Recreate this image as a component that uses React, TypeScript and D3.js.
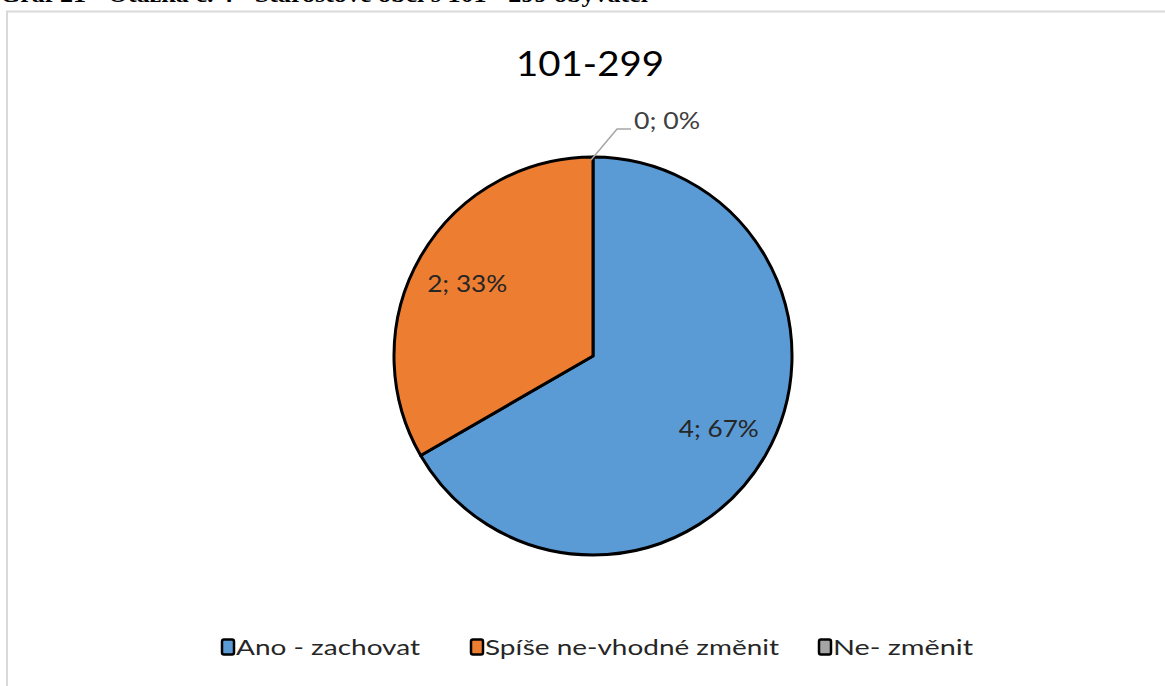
import React, { useEffect, useRef } from "react";
import * as d3 from "d3";

const categories = ["Ano - zachovat", "Spíše ne-vhodné změnit", "Ne- změnit"];
const counts = [4, 2, 0];
const percents = ["67%", "33%", "0%"];
const colors = ["#5B9BD5", "#ED7D31", "#A5A5A5"];

const title = "101-299";
const caption = "Graf 21 - Otázka č. 4 - Starostové obcí s 101 - 299 obyvatel";

const W = 1165;
const H = 686;

const App = () => {
  const svgRef = useRef<SVGSVGElement | null>(null);

  useEffect(() => {
    const svg = d3.select(svgRef.current);
    svg.selectAll("*").remove();
    svg.attr("width", W).attr("height", H);

    const font = "Lato, 'Open Sans', sans-serif";

    // caption above the chart frame (cut off in the original)
    svg
      .append("text")
      .attr("x", 0)
      .attr("y", 2)
      .attr("font-family", "'Liberation Serif', 'Times New Roman', serif")
      .attr("font-weight", "bold")
      .attr("font-size", 24)
      .attr("textLength", 648)
      .attr("lengthAdjust", "spacingAndGlyphs")
      .attr("fill", "#000")
      .text(caption);

    // chart frame
    svg
      .append("rect")
      .attr("x", 7)
      .attr("y", 11.5)
      .attr("width", W + 20)
      .attr("height", H + 20)
      .attr("fill", "#fff")
      .attr("stroke", "#d9d9d9")
      .attr("stroke-width", 2);

    svg
      .append("text")
      .attr("x", 590)
      .attr("y", 76)
      .attr("text-anchor", "middle")
      .attr("font-family", font)
      .attr("font-size", 35)
      .attr("textLength", 148)
      .attr("lengthAdjust", "spacingAndGlyphs")
      .attr("fill", "#000")
      .text(title);

    const cx = 593;
    const cy = 356;
    const r = 199;

    const data = categories.map((c, i) => ({ c, v: counts[i], p: percents[i], col: colors[i] }));
    const pie = d3.pie<any>().sort(null).value((d) => d.v);
    const arcs = pie(data);
    const arc = d3.arc<any>().innerRadius(0).outerRadius(r);

    const g = svg.append("g").attr("transform", `translate(${cx},${cy})`);

    g.selectAll("path")
      .data(arcs.filter((a) => a.data.v > 0))
      .enter()
      .append("path")
      .attr("d", arc)
      .attr("fill", (d) => d.data.col)
      .attr("stroke", "#000")
      .attr("stroke-width", 3)
      .attr("stroke-linejoin", "round");

    // labels inside slices
    const labelArc = d3.arc<any>().innerRadius(r * 0.73).outerRadius(r * 0.73);
    g.selectAll("text.lbl")
      .data(arcs.filter((a) => a.data.v > 0))
      .enter()
      .append("text")
      .attr("class", "lbl")
      .attr("transform", (d) => {
        const [x, y] = labelArc.centroid(d);
        return `translate(${x},${y})`;
      })
      .attr("text-anchor", "middle")
      .attr("dy", "0.35em")
      .attr("font-family", font)
      .attr("font-size", 24)
      .attr("textLength", 80)
      .attr("lengthAdjust", "spacingAndGlyphs")
      .attr("fill", "#262626")
      .text((d) => `${d.data.v}; ${d.data.p}`);

    // zero slice label with leader line
    arcs
      .filter((a) => a.data.v === 0)
      .forEach((a) => {
        const ang = a.startAngle;
        const x0 = Math.sin(ang) * r;
        const y0 = -Math.cos(ang) * r;
        g.append("path")
          .attr("d", `M${x0 - 2},${y0 + 3} L${x0 + 24},${y0 - 28} L${x0 + 38},${y0 - 28}`)
          .attr("fill", "none")
          .attr("stroke", "#a6a6a6")
          .attr("stroke-width", 1.5);
        g.append("text")
          .attr("x", x0 + 41)
          .attr("y", y0 - 28)
          .attr("font-family", font)
          .attr("font-size", 24)
          .attr("textLength", 66)
          .attr("lengthAdjust", "spacingAndGlyphs")
          .attr("fill", "#404040")
          .text(`${a.data.v}; ${a.data.p}`);
      });

    // legend
    const legendX = [222, 471, 819];
    const legendW = [184, 294, 140];
    const ly = 647;
    const lg = svg
      .selectAll("g.leg")
      .data(data)
      .enter()
      .append("g")
      .attr("class", "leg")
      .attr("transform", (_d, i) => `translate(${legendX[i]},${ly})`);
    lg.append("rect")
      .attr("x", 0)
      .attr("y", -7.5)
      .attr("width", 12)
      .attr("height", 15)
      .attr("rx", 2)
      .attr("fill", (d) => d.col)
      .attr("stroke", "#000")
      .attr("stroke-width", 2.5);
    lg.append("text")
      .attr("x", 14)
      .attr("y", 0)
      .attr("dy", "0.35em")
      .attr("font-family", font)
      .attr("font-size", 22)
      .attr("textLength", (_d, i) => legendW[i])
      .attr("lengthAdjust", "spacingAndGlyphs")
      .attr("fill", "#262626")
      .text((d) => d.c);
  }, []);

  return (
    <div style={{ position: "absolute", left: 0, top: 0, width: W, height: H, overflow: "hidden", background: "#fff" }}>
      <svg ref={svgRef} style={{ display: "block" }}></svg>
    </div>
  );
};

export default App;
